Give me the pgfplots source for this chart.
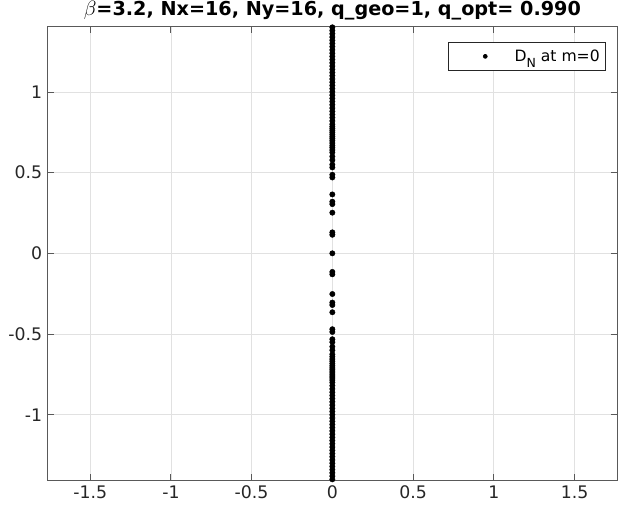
\documentclass[border=0pt]{standalone}
\usepackage{fontspec}
\setmainfont{DejaVu Sans}
\usepackage{pgfplots}
\pgfplotsset{compat=1.18}
\definecolor{axgray}{RGB}{38,38,38}
\definecolor{gridgray}{RGB}{225,225,225}
\pgfplotstableread{
x y
0 -1.40
0 -1.38
0 -1.36
0 -1.34
0 -1.32
0 -1.30
0 -1.28
0 -1.26
0 -1.24
0 -1.22
0 -1.20
0 -1.18
0 -1.16
0 -1.14
0 -1.12
0 -1.10
0 -1.08
0 -1.06
0 -1.04
0 -1.02
0 -1.00
0 -0.98
0 -0.96
0 -0.94
0 -0.92
0 -0.90
0 -0.88
0 -0.86
0 -0.84
0 -0.82
0 -0.80
0 -0.785
0 -0.772
0 -0.760
0 -0.748
0 -0.735
0 -0.722
0 -0.710
0 -0.697
0 -0.683
0 -0.668
0 -0.655
0 -0.640
0 -0.625
0 -0.600
0 -0.578
0 -0.550
0 -0.532
0 -0.487
0 -0.470
0 -0.365
0 -0.320
0 -0.305
0 -0.252
0 -0.130
0 -0.115
0 0.000
0 0.115
0 0.130
0 0.252
0 0.305
0 0.320
0 0.365
0 0.470
0 0.487
0 0.532
0 0.550
0 0.578
0 0.600
0 0.625
0 0.640
0 0.655
0 0.668
0 0.683
0 0.697
0 0.710
0 0.722
0 0.735
0 0.748
0 0.760
0 0.772
0 0.785
0 0.80
0 0.82
0 0.84
0 0.86
0 0.88
0 0.90
0 0.92
0 0.94
0 0.96
0 0.98
0 1.00
0 1.02
0 1.04
0 1.06
0 1.08
0 1.10
0 1.12
0 1.14
0 1.16
0 1.18
0 1.20
0 1.22
0 1.24
0 1.26
0 1.28
0 1.30
0 1.32
0 1.34
0 1.36
0 1.38
0 1.40
}\datatable
\begin{document}
\begin{tikzpicture}
\useasboundingbox (-47.7pt,-33pt) rectangle (570.3pt,480pt);
\begin{axis}[
  at={(0pt,0pt)}, anchor=south west,
  scale only axis, width=569.3pt, height=453.3pt,
  xmin=-1.763, xmax=1.763, ymin=-1.404, ymax=1.404,
  clip=false,
  xtick={-1.5,-1,-0.5,0,0.5,1,1.5},
  xticklabels={-1.5,-1,-0.5,0,0.5,1,1.5},
  ytick={-1,-0.5,0,0.5,1},
  yticklabels={-1,-0.5,0,0.5,1},
  tick align=inside, major tick length=6pt,
  grid=major, major grid style={gridgray, line width=0.7pt},
  axis line style={black!65, line width=0.8pt},
  tick style={black!65, line width=0.8pt},
  ticklabel style={font=\fontsize{17.3}{20}\selectfont, text=axgray},
  xticklabel style={yshift=-2pt},
  yticklabel style={xshift=-2pt},
  title={$\beta$=3.2, Nx=16, Ny=16, q\_geo=1, q\_opt= 0.990},
  title style={font=\fontsize{19.2}{22}\selectfont\bfseries, at={(0.5,1)}, anchor=base, yshift=5pt, inner sep=0pt},
  legend style={at={(axis description cs:0.9807,0.9662)}, anchor=north east,
    draw=axgray, line width=0.6pt, fill=white, inner xsep=4pt, inner ysep=5.5pt,
    font=\fontsize{15.6}{18}\selectfont, text=black},
  legend cell align=left,
  legend image code/.code={\path (-33pt,0pt) (27pt,0pt); \draw[#1, mark size=2pt] plot coordinates {(0pt,0pt)};},
]
\addplot[only marks, mark=*, mark size=2.7pt, black] table[x=x, y=y] {\datatable};
\addlegendentry{D\raisebox{-0.42em}{\fontsize{12.5}{12.5}\selectfont N} at m=0}
\end{axis}
\end{tikzpicture}
\end{document}
